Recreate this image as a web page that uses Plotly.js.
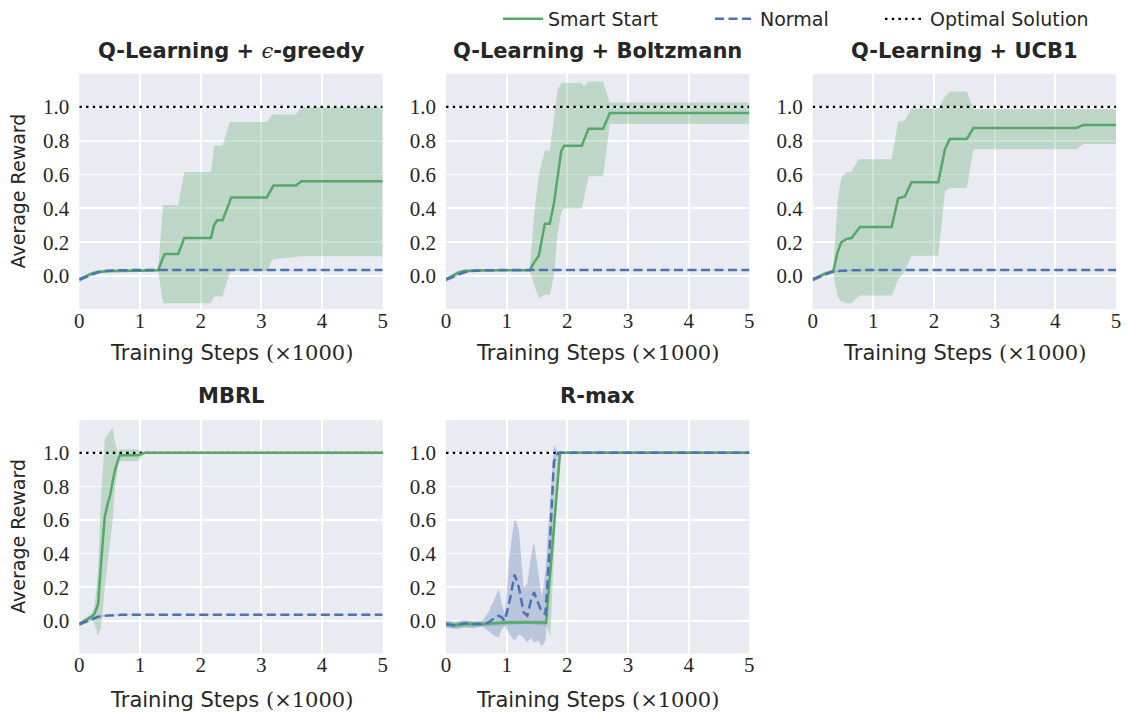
<!DOCTYPE html>
<html>
<head>
<meta charset="utf-8">
<script src="https://cdn.plot.ly/plotly-3.0.1.min.js"></script>
<style>
  html, body { margin: 0; padding: 0; background: #ffffff; }
  #chart { width: 1128px; height: 713px; }
</style>
</head>
<body>
<div id="chart"></div>
<script>
// ---- data: training steps in thousands, average reward (mean and band) ----
const stepRange = [0, 5];
const optimalReward = 1.0;
const xTicks = [0, 1, 2, 3, 4, 5];
const yTicks = [0.0, 0.2, 0.4, 0.6, 0.8, 1.0];

const panelTitles = [
  'Q-Learning + <span style="font-family:DejaVu Serif;font-style:italic;font-weight:normal">ϵ</span>-greedy',
  'Q-Learning + Boltzmann',
  'Q-Learning + UCB1',
  'MBRL',
  'R-max'
];
const seriesNames = ['Smart Start', 'Normal', 'Optimal Solution'];

// Normal exploration (shared by the Q-Learning and MBRL panels)
const normX    = [0, 0.1, 0.2, 0.3, 0.4, 0.5, 0.7, 1.0, 5];
const normMean = [-0.02, -0.005, 0.01, 0.022, 0.03, 0.033, 0.035, 0.036, 0.036];
const normLo   = [-0.035, -0.017, 0.0, 0.014, 0.025, 0.03, 0.033, 0.035, 0.035];
const normHi   = [-0.005, 0.007, 0.02, 0.03, 0.035, 0.036, 0.037, 0.037, 0.037];

// Q-Learning + epsilon-greedy, Smart Start
const epsX    = [0, 0.1, 0.2, 0.3, 0.5, 1.0, 1.30, 1.38, 1.41, 1.63, 1.73, 2.17, 2.22, 2.27, 2.36, 2.48, 2.5, 3.09, 3.17, 3.2, 3.57, 3.66, 5];
const epsMean = [-0.02, 0.0, 0.015, 0.025, 0.03, 0.032, 0.035, 0.11, 0.13, 0.13, 0.225, 0.225, 0.30, 0.33, 0.33, 0.44, 0.465, 0.465, 0.52, 0.535, 0.535, 0.56, 0.56];
const epsHi   = [-0.01, 0.01, 0.025, 0.035, 0.04, 0.04, 0.04, 0.42, 0.42, 0.42, 0.615, 0.615, 0.77, 0.772, 0.772, 0.91, 0.91, 0.91, 0.95, 0.955, 0.955, 1.0, 1.0];
const epsLo   = [-0.035, -0.01, 0.005, 0.015, 0.02, 0.025, 0.03, -0.16, -0.16, -0.16, -0.16, -0.16, -0.12, -0.12, -0.12, 0.02, 0.03, 0.03, 0.09, 0.10, 0.115, 0.118, 0.118];

// Q-Learning + Boltzmann, Smart Start
const boltzX    = [0, 0.1, 0.2, 0.3, 0.5, 1.0, 1.38, 1.45, 1.53, 1.63, 1.71, 1.78, 1.84, 1.9, 1.95, 2.24, 2.27, 2.35, 2.59, 2.69, 2.7, 5];
const boltzMean = [-0.02, 0.0, 0.02, 0.03, 0.033, 0.035, 0.035, 0.08, 0.12, 0.31, 0.31, 0.43, 0.6, 0.74, 0.77, 0.77, 0.80, 0.87, 0.87, 0.95, 0.963, 0.963];
const boltzHi   = [-0.01, 0.01, 0.03, 0.04, 0.04, 0.04, 0.04, 0.35, 0.6, 0.74, 0.74, 0.93, 1.1, 1.14, 1.14, 1.14, 1.12, 1.15, 1.15, 1.03, 1.025, 1.025];
const boltzLo   = [-0.03, -0.01, 0.01, 0.02, 0.025, 0.03, 0.03, -0.05, -0.13, -0.11, -0.11, 0.0, 0.25, 0.38, 0.40, 0.40, 0.45, 0.59, 0.59, 0.88, 0.90, 0.90];

// Q-Learning + UCB1, Smart Start
const ucbX    = [0, 0.1, 0.2, 0.34, 0.41, 0.47, 0.56, 0.64, 0.75, 0.78, 1.30, 1.41, 1.52, 1.63, 2.07, 2.18, 2.26, 2.54, 2.65, 4.35, 4.46, 5];
const ucbMean = [-0.02, 0.0, 0.015, 0.03, 0.14, 0.2, 0.22, 0.225, 0.28, 0.29, 0.29, 0.46, 0.47, 0.555, 0.555, 0.75, 0.81, 0.81, 0.875, 0.875, 0.893, 0.893];
const ucbHi   = [-0.01, 0.01, 0.025, 0.04, 0.44, 0.58, 0.615, 0.615, 0.69, 0.69, 0.69, 0.91, 0.92, 0.99, 0.99, 1.06, 1.09, 1.09, 0.985, 0.985, 0.985, 0.985];
const ucbLo   = [-0.035, -0.01, 0.005, 0.02, -0.12, -0.15, -0.16, -0.16, -0.12, -0.115, -0.115, -0.02, 0.03, 0.12, 0.12, 0.5, 0.52, 0.52, 0.75, 0.75, 0.78, 0.78];

// MBRL, Smart Start
const mbrlX    = [0, 0.1, 0.2, 0.25, 0.31, 0.36, 0.42, 0.47, 0.51, 0.55, 0.59, 0.64, 0.67, 0.97, 1.08, 5];
const mbrlMean = [-0.02, 0.0, 0.025, 0.04, 0.1, 0.35, 0.62, 0.7, 0.75, 0.83, 0.9, 0.96, 0.985, 0.985, 1.0, 1.0];
const mbrlHi   = [-0.01, 0.015, 0.04, 0.08, 0.3, 0.75, 1.08, 1.11, 1.13, 1.15, 1.06, 1.0, 1.02, 1.02, 1.0, 1.0];
const mbrlLo   = [-0.03, -0.015, 0.01, -0.02, -0.09, -0.04, 0.2, 0.35, 0.45, 0.6, 0.8, 0.92, 0.95, 0.95, 1.0, 1.0];

// R-max, Smart Start
const rmaxSmartX    = [0, 0.15, 0.3, 0.6, 1.0, 1.3, 1.5, 1.65, 1.72, 1.78, 1.85, 1.88, 5];
const rmaxSmartMean = [-0.022, -0.025, -0.02, -0.02, -0.01, -0.008, -0.01, -0.012, 0.29, 0.6, 0.9, 1.0, 1.0];
const rmaxSmartHi   = [0.0, -0.005, 0.0, -0.005, 0.005, 0.005, 0.005, 0.005, 0.45, 0.8, 1.0, 1.0, 1.0];
const rmaxSmartLo   = [-0.04, -0.045, -0.04, -0.035, -0.025, -0.02, -0.025, -0.03, -0.09, 0.4, 0.85, 1.0, 1.0];

// R-max, Normal
const rmaxNormX    = [0, 0.15, 0.3, 0.45, 0.6, 0.7, 0.8, 0.87, 0.92, 0.97, 1.05, 1.13, 1.2, 1.28, 1.34, 1.4, 1.45, 1.52, 1.58, 1.64, 1.71, 1.78, 1.85, 5];
const rmaxNormMean = [-0.02, -0.03, -0.015, -0.02, -0.02, -0.01, 0.015, 0.03, 0.02, 0.0, 0.12, 0.275, 0.2, 0.05, 0.03, 0.12, 0.17, 0.1, 0.05, 0.04, 0.45, 0.95, 1.0, 1.0];
const rmaxNormHi   = [0.0, -0.01, 0.005, -0.005, 0.0, 0.05, 0.13, 0.19, 0.1, 0.04, 0.4, 0.61, 0.55, 0.2, 0.22, 0.38, 0.47, 0.3, 0.14, 0.3, 0.7, 1.05, 1.0, 1.0];
const rmaxNormLo   = [-0.04, -0.05, -0.04, -0.045, -0.035, -0.06, -0.09, -0.1, -0.05, -0.03, -0.08, -0.12, -0.08, -0.1, -0.13, -0.1, -0.13, -0.12, -0.15, -0.12, 0.25, 0.85, 1.0, 1.0];

// ---- styling ----
const GREEN = '#55A868';
const BLUE = '#4C72B0';
const GREEN_FILL = 'rgba(85,168,104,0.3)';
const BLUE_FILL = 'rgba(76,114,176,0.3)';
const TEXT = '#262626';
const SANS = '"DejaVu Sans", sans-serif';
const SERIF = '"Liberation Serif", "DejaVu Serif", serif';

const W = 1128, H = 713;
const px = v => v / W;
const py = v => 1 - v / H;

const colDomains = [[px(79.3), px(382.7)], [px(446), px(749.3)], [px(812.7), px(1116)]];
const rowDomains = [[py(308), py(72)], [py(653.3), py(419.3)]];
const rowTitleY = [py(49), py(395)];
const rowXLabelY = [py(352), py(700)];

const panels = [
  { row: 0, col: 0, smart: [epsX, epsMean, epsLo, epsHi],         normal: [normX, normMean, normLo, normHi] },
  { row: 0, col: 1, smart: [boltzX, boltzMean, boltzLo, boltzHi], normal: [normX, normMean, normLo, normHi] },
  { row: 0, col: 2, smart: [ucbX, ucbMean, ucbLo, ucbHi],         normal: [normX, normMean, normLo, normHi] },
  { row: 1, col: 0, smart: [mbrlX, mbrlMean, mbrlLo, mbrlHi],     normal: [normX, normMean, normLo, normHi] },
  { row: 1, col: 1, smart: [rmaxSmartX, rmaxSmartMean, rmaxSmartLo, rmaxSmartHi],
                    normal: [rmaxNormX, rmaxNormMean, rmaxNormLo, rmaxNormHi] }
];

const traces = [];
const layout = {
  width: W, height: H,
  margin: { l: 0, r: 0, t: 0, b: 0 },
  paper_bgcolor: '#ffffff',
  plot_bgcolor: '#EAEAF2',
  font: { family: SANS, color: TEXT, size: 19 },
  showlegend: true,
  annotations: []
};

function band(xa, ya, s, lineColor, fill) {
  const [x, , lo, hi] = s;
  traces.push({ x: x, y: lo, xaxis: xa, yaxis: ya, mode: 'lines', line: { width: 0, color: lineColor },
                showlegend: false, hoverinfo: 'skip' });
  traces.push({ x: x, y: hi, xaxis: xa, yaxis: ya, mode: 'lines', line: { width: 0, color: lineColor },
                fill: 'tonexty', fillcolor: fill, showlegend: false, hoverinfo: 'skip' });
}

panels.forEach((p, i) => {
  const n = i === 0 ? '' : String(i + 1);
  const xa = 'x' + n, ya = 'y' + n;
  const first = i === 0;

  band(xa, ya, p.smart, GREEN, GREEN_FILL);
  band(xa, ya, p.normal, BLUE, BLUE_FILL);

  traces.push({
    x: stepRange, y: [optimalReward, optimalReward], xaxis: xa, yaxis: ya, mode: 'lines',
    name: seriesNames[2], legend: 'legend3', showlegend: first,
    line: { color: '#000000', width: 2.2, dash: '2.5px,4.2px' }
  });
  traces.push({
    x: p.smart[0], y: p.smart[1], xaxis: xa, yaxis: ya, mode: 'lines',
    name: seriesNames[0], legend: 'legend', showlegend: first,
    line: { color: GREEN, width: 2.5 }
  });
  traces.push({
    x: p.normal[0], y: p.normal[1], xaxis: xa, yaxis: ya, mode: 'lines',
    name: seriesNames[1], legend: 'legend2', showlegend: first,
    line: { color: BLUE, width: 2.5, dash: '9px,4.5px' }
  });

  layout['xaxis' + n] = {
    domain: colDomains[p.col], anchor: ya, range: stepRange,
    tickvals: xTicks, ticktext: xTicks.map(String), ticks: '', ticklabelstandoff: -3,
    showgrid: true, gridcolor: '#ffffff', gridwidth: 1.8, zeroline: false, showline: false,
    tickfont: { family: SERIF, size: 21, color: TEXT }, automargin: false, fixedrange: true
  };
  layout['yaxis' + n] = {
    domain: rowDomains[p.row], anchor: xa, range: [-0.195, 1.195],
    tickvals: yTicks, ticktext: yTicks.map(v => v.toFixed(1)), ticks: '', ticklabelstandoff: 9,
    showgrid: true, gridcolor: '#ffffff', gridwidth: 1.8, zeroline: false, showline: false,
    tickfont: { family: SERIF, size: 21, color: TEXT }, automargin: false, fixedrange: true
  };

  const cx = (colDomains[p.col][0] + colDomains[p.col][1]) / 2;
  layout.annotations.push({
    xref: 'paper', yref: 'paper', x: cx, y: rowTitleY[p.row], xanchor: 'center', yanchor: 'middle',
    text: panelTitles[i], showarrow: false,
    font: { family: SANS, size: 21, weight: 700, color: TEXT }
  });
  layout.annotations.push({
    xref: 'paper', yref: 'paper', x: cx, y: rowXLabelY[p.row], xanchor: 'center', yanchor: 'middle',
    text: 'Training Steps <span style="font-family:DejaVu Serif">(×1000)</span>', showarrow: false,
    font: { family: SANS, size: 21, color: TEXT }
  });
  if (p.col === 0) {
    const cy = (rowDomains[p.row][0] + rowDomains[p.row][1]) / 2;
    layout.annotations.push({
      xref: 'paper', yref: 'paper', x: px(18), y: cy, xanchor: 'center', yanchor: 'middle',
      text: 'Average Reward', textangle: -90, showarrow: false,
      font: { family: SANS, size: 19, color: TEXT }
    });
  }
});

const legendBase = { orientation: 'h', yanchor: 'middle', y: py(17), xanchor: 'left', itemwidth: 40,
                     bgcolor: 'rgba(0,0,0,0)', font: { family: SANS, size: 19, color: TEXT } };
layout.legend  = Object.assign({}, legendBase, { x: px(498) });
layout.legend2 = Object.assign({}, legendBase, { x: px(710) });
layout.legend3 = Object.assign({}, legendBase, { x: px(880) });

Plotly.newPlot('chart', traces, layout, { displayModeBar: false, staticPlot: true });
</script>
</body>
</html>
